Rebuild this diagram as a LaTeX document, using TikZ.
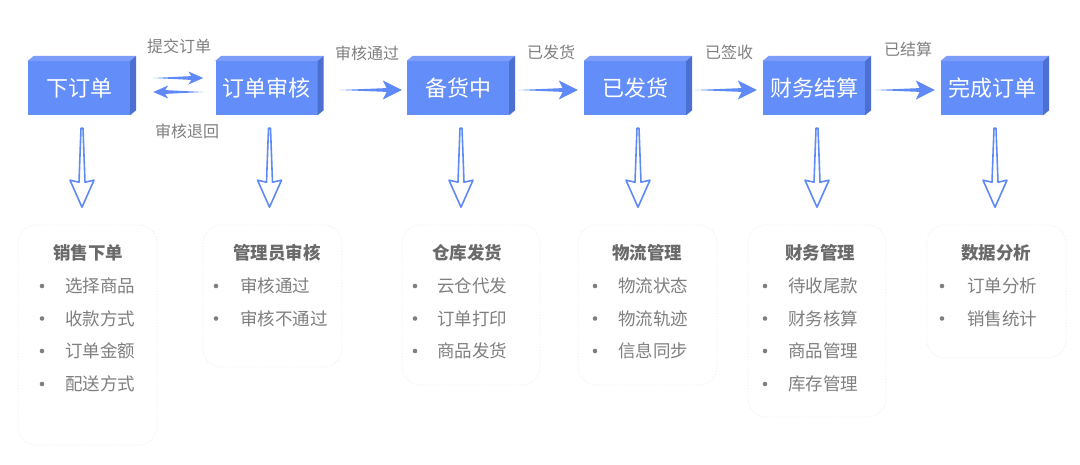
\documentclass[tikz,border=0pt]{standalone}
\usepackage{fontspec}
\setmainfont{Noto Sans CJK SC}
\usetikzlibrary{calc}
\definecolor{boxfront}{HTML}{638DF9}
\definecolor{boxtop}{HTML}{7C9EFA}
\definecolor{boxside}{HTML}{4C6FD2}
\definecolor{flowc}{HTML}{5F89F6}
\definecolor{lblgray}{HTML}{7F7F7F}
\definecolor{titlegray}{HTML}{6A6A6A}
\definecolor{cardline}{HTML}{F0EDE2}
\tikzset{
  stage/.style={fill=boxfront, text=white, minimum width=102pt, minimum height=54pt, inner sep=0pt, font=\fontsize{22}{24}\selectfont},
  flow/.style={fill=flowc},
  lbl/.style={text=lblgray, font=\fontsize{16}{18}\selectfont, inner sep=0pt},
  card/.style={draw=cardline, dotted, line width=0.9pt, rounded corners=18pt},
  ctitle/.style={text=titlegray, font=\fontsize{17.5}{19}\selectfont\bfseries, inner sep=0pt},
  citem/.style={text=lblgray, font=\fontsize{17.5}{19}\selectfont, inner sep=0pt, anchor=west},
  cbullet/.style={circle, fill=lblgray, inner sep=0pt, minimum size=4.6pt},
  varrow/.style={draw=flowc, fill=white, line width=1.6pt, line join=round},
}
% #1 tail, #2 tip, #3 head length (signed), #4 head half width
\newcommand\harrow[4]{\fill[flow] (#1) -- ($(#2)+({-0.8*(#3)},-1.9)$) -- ($(#2)+({-(#3)},-#4)$) -- (#2) -- ($(#2)+({-(#3)},#4)$) -- ($(#2)+({-0.8*(#3)},1.9)$) -- cycle;}
% #1 top coordinate
\newcommand\varr[1]{\draw[varrow] ($(#1)+(-1,0)$) -- ($(#1)+(1,0)$) -- ($(#1)+(3,54)$) -- ($(#1)+(12,52)$) -- ($(#1)+(0,79)$) -- ($(#1)+(-12,52)$) -- ($(#1)+(-3,54)$) -- cycle;}
\newcommand\cube[1]{%
  \fill[boxtop] (#1.north west) -- ++(6,-5) -- ($(#1.north east)+(6,-5)$) -- (#1.north east) -- cycle;
  \fill[boxside] (#1.north east) -- ++(6,-5) -- ($(#1.south east)+(6,-5)$) -- (#1.south east) -- cycle;}
\begin{document}
\begin{tikzpicture}[x=1pt, y=-1pt]
\useasboundingbox[fill=white] (0,0) rectangle (1080,464);
% stages
\node[stage] (b1) at (79,88) {下订单};
\node[stage] (b2) at (266.5,88) {订单审核};
\node[stage] (b3) at (458,88) {备货中};
\node[stage] (b4) at (635,88) {已发货};
\node[stage] (b5) at (814,88) {财务结算};
\node[stage] (b6) at (992,88) {完成订单};
\foreach \b in {b1,b2,b3,b4,b5,b6} {\cube{\b}}
% horizontal connectors
\coordinate (t12) at ($(b1.east)+(23,-10)$);
\coordinate (h12) at ($(b2.west)+(-12,-10)$);
\coordinate (t21) at ($(b2.west)+(-12,4)$);
\coordinate (h21) at ($(b1.east)+(23,4)$);
\harrow{t12}{h12}{15}{6.5}
\harrow{t21}{h21}{-15}{6.5}
\coordinate (t23) at ($(b2.east)+(22,2)$);
\coordinate (h23) at ($(b3.west)+(-5,2)$);
\harrow{t23}{h23}{19}{9.5}
\coordinate (t34) at ($(b3.east)+(9,2)$);
\coordinate (h34) at ($(b4.west)+(-6,2)$);
\harrow{t34}{h34}{19}{9.5}
\coordinate (t45) at ($(b4.east)+(9,2)$);
\coordinate (h45) at ($(b5.west)+(-6,2)$);
\harrow{t45}{h45}{19}{9.5}
\coordinate (t56) at ($(b5.east)+(10,2)$);
\coordinate (h56) at ($(b6.west)+(-6,2)$);
\harrow{t56}{h56}{19}{9.5}
% labels
\node[lbl] (l1) at (179,46) {提交订单};
\node[lbl] (l2) at (187,131) {审核退回};
\node[lbl] (l3) at (367,53) {审核通过};
\node[lbl] (l4) at (551,52) {已发货};
\node[lbl] (l5) at (729,52) {已签收};
\node[lbl] (l6) at (908,49) {已结算};
% vertical arrows
\foreach \b/\i in {b1/1,b2/2,b3/3,b4/4,b5/5,b6/6} {
  \coordinate (v\i) at ($(\b.south)+(3,13)$);
  \varr{v\i}
}
% cards
\draw[card] (18,225) rectangle (157,445);
\node[ctitle] (c1) at (88,253) {销售下单};
\node[cbullet] at (42,286) {}; \node[citem] at (65,286) {选择商品};
\node[cbullet] at (42,318.5) {}; \node[citem] at (65,318.5) {收款方式};
\node[cbullet] at (42,351) {}; \node[citem] at (65,351) {订单金额};
\node[cbullet] at (42,384) {}; \node[citem] at (65,384) {配送方式};

\draw[card] (203,225) rectangle (342,367);
\node[ctitle] (c2) at (277,253) {管理员审核};
\node[cbullet] at (216,286) {}; \node[citem] at (240,286) {审核通过};
\node[cbullet] at (216,318.5) {}; \node[citem] at (240,318.5) {审核不通过};

\draw[card] (402,225) rectangle (540,385);
\node[ctitle] (c3) at (467,253) {仓库发货};
\node[cbullet] at (415,286) {}; \node[citem] at (437,286) {云仓代发};
\node[cbullet] at (415,318.5) {}; \node[citem] at (437,318.5) {订单打印};
\node[cbullet] at (415,351) {}; \node[citem] at (437,351) {商品发货};

\draw[card] (578,225) rectangle (717,385);
\node[ctitle] (c4) at (647,253) {物流管理};
\node[cbullet] at (595,286) {}; \node[citem] at (618,286) {物流状态};
\node[cbullet] at (595,318.5) {}; \node[citem] at (618,318.5) {物流轨迹};
\node[cbullet] at (595,351) {}; \node[citem] at (618,351) {信息同步};

\draw[card] (748,225) rectangle (886,417);
\node[ctitle] (c5) at (820,253) {财务管理};
\node[cbullet] at (765,286) {}; \node[citem] at (788,286) {待收尾款};
\node[cbullet] at (765,318.5) {}; \node[citem] at (788,318.5) {财务核算};
\node[cbullet] at (765,351) {}; \node[citem] at (788,351) {商品管理};
\node[cbullet] at (765,384) {}; \node[citem] at (788,384) {库存管理};

\draw[card] (927,225) rectangle (1066,358);
\node[ctitle] (c6) at (996,253) {数据分析};
\node[cbullet] at (942,286) {}; \node[citem] at (967,286) {订单分析};
\node[cbullet] at (942,318.5) {}; \node[citem] at (967,318.5) {销售统计};
\end{tikzpicture}
\end{document}
